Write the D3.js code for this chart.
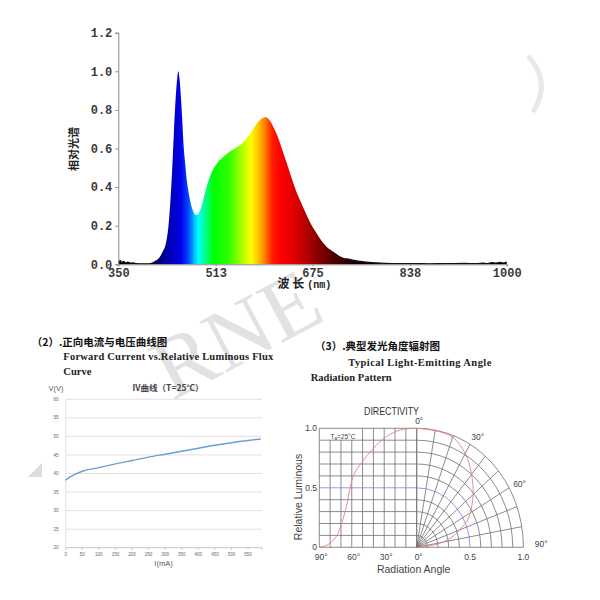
<!DOCTYPE html>
<html>
<head>
<meta charset="utf-8">
<script type="text/javascript" src="https://cdn.jsdelivr.net/npm/d3@7/dist/d3.min.js"></script>
<style>
	body { margin: 0; background: #fff; }
	svg { display: block; }
</style>
</head>
<body>

<svg width="600" height="600"></svg>

<script type="text/javascript">

	// Spectrum (relative, vs wavelength nm)
	var specNm = [350, 353, 356, 359, 362, 366, 370, 375, 380, 390, 400, 408, 414, 420, 425, 428, 431, 434, 437, 440,
		443, 446, 448.5, 450.5, 452.5, 454.5, 457, 459, 462, 464.5, 467, 470, 473, 476, 479, 481, 484, 487, 491, 495,
		499, 503.5, 508, 512, 517, 523, 530, 537, 545, 554, 560, 565, 571, 576, 581, 587, 591, 595.5, 598, 601,
		605, 609, 615, 620.5, 626, 632, 637, 643, 648, 654, 660, 665, 673, 682, 690, 699, 710, 721, 730, 740,
		755, 770, 790, 810, 840, 870, 900, 930, 950, 960, 968, 975, 982, 988, 994, 1000];
	var specVal = [0.012, 0.02, 0.01, 0.016, 0.008, 0.012, 0.006, 0.008, 0.004, 0.003, 0.003, 0.008, 0.02, 0.04, 0.07, 0.09, 0.13, 0.2, 0.32, 0.48,
		0.68, 0.86, 0.96, 1.0, 0.96, 0.88, 0.75, 0.63, 0.52, 0.44, 0.385, 0.335, 0.295, 0.27, 0.257, 0.255, 0.262, 0.28, 0.32, 0.37,
		0.415, 0.455, 0.487, 0.508, 0.53, 0.55, 0.568, 0.584, 0.6, 0.618, 0.635, 0.653, 0.678, 0.703, 0.726, 0.748, 0.757, 0.762, 0.761, 0.754,
		0.738, 0.714, 0.675, 0.628, 0.578, 0.524, 0.476, 0.42, 0.376, 0.333, 0.29, 0.256, 0.205, 0.16, 0.122, 0.09, 0.065, 0.042, 0.03, 0.024,
		0.015, 0.01, 0.006, 0.004, 0.004, 0.003, 0.004, 0.005, 0.004, 0.007, 0.004, 0.009, 0.006, 0.011, 0.007, 0.012];
	var specYTicks = [0, 0.2, 0.4, 0.6, 0.8, 1.0, 1.2];
	var specXTicks = [350, 513, 675, 838, 1000];

	// IV curve
	var ivCurrent = [0, 10, 25, 50, 100, 150, 200, 250, 300, 350, 400, 450, 500, 550, 588];
	var ivVoltage = [38.2, 38.9, 39.6, 40.6, 41.6, 42.6, 43.5, 44.4, 45.2, 46.0, 46.8, 47.6, 48.3, 48.9, 49.3];
	var ivYTicks = [20, 25, 30, 35, 40, 45, 50, 55, 60];
	var ivXTicks = [0, 50, 100, 150, 200, 250, 300, 350, 400, 450, 500, 550];

	// Directivity: rectangular curve and polar curve
	var rectAngle = [90, 85, 80, 76, 73, 70, 68, 65, 62, 59, 55, 50, 46, 40, 35, 28, 20, 10, 0];
	var rectLum = [0, 0.01, 0.035, 0.07, 0.11, 0.18, 0.24, 0.34, 0.48, 0.59, 0.66, 0.72, 0.77, 0.83, 0.88, 0.93, 0.97, 0.995, 1.0];
	var polarAngle = [0, 10, 20, 30, 40, 50, 60, 65, 68, 72, 76, 80, 84, 87, 90];
	var polarLum = [1.0, 0.995, 0.985, 0.91, 0.8, 0.69, 0.58, 0.52, 0.46, 0.4, 0.33, 0.25, 0.15, 0.07, 0];
	var gridAngles = [0, 10, 20, 30, 40, 50, 60, 70, 80, 90];
	var gridRadii = [0.1, 0.2, 0.3, 0.4, 0.5, 0.6, 0.7, 0.8, 0.9, 1.0];
	var angleLabels = [0, 30, 60, 90];
	var bottomAngleLabels = [90, 60, 30, 0];
	var lumLabels = [0, 0.5, 1.0];
	var radiusLabels = [0.5, 1.0];

	// colour of the spectrum fill, by wavelength
	var specStops = [[350, "#000000"], [405, "#000040"], [425, "#00008c"], [440, "#0000c0"], [455, "#0000e8"],
		[468, "#0050ff"], [478, "#00c8ff"], [484, "#00ffff"], [495, "#00ff90"], [510, "#00ff00"], [535, "#30ff00"],
		[555, "#a0ff00"], [572, "#ffff00"], [585, "#ffc000"], [595, "#ff8000"], [607, "#ff2000"], [620, "#ff0000"],
		[645, "#e00000"], [665, "#b00000"], [688, "#800000"], [710, "#500000"], [740, "#200000"], [780, "#000000"]];

	var svg = d3.select("svg");
	var sans = "'Liberation Sans', Arial, sans-serif";
	var mono = "'Liberation Mono', 'Courier New', monospace";
	var serif = "'Liberation Serif', 'Times New Roman', serif";
	var cjk = "'Noto Sans CJK SC', sans-serif";

	function watermark() {
		svg.append("text")
			.attr("transform", "translate(250,360) rotate(-28)")
			.attr("text-anchor", "middle")
			.attr("font-family", serif)
			.attr("font-size", 88)
			.attr("fill", "#e2e2e2")
			.text("RNE");
		svg.append("path")
			.attr("d", "M528,56 Q552,82 533,112")
			.attr("fill", "none")
			.attr("stroke", "#e8e8e8")
			.attr("stroke-width", 5);
		svg.append("path")
			.attr("d", "M42,463 L42,477 L28,477 Z")
			.attr("fill", "#dcdcdc");
	}

	function spectrum() {
		var x = d3.scaleLinear().domain([350, 1000]).range([118.3, 506.7]);
		var y = d3.scaleLinear().domain([0, 1.2]).range([264.3, 32.7]);
		var data = specNm.map(function(d, i) { return [d, specVal[i]]; });

		var grad = svg.append("defs").append("linearGradient")
			.attr("id", "spec")
			.attr("gradientUnits", "userSpaceOnUse")
			.attr("x1", x(350)).attr("x2", x(1000))
			.attr("y1", 0).attr("y2", 0);
		grad.selectAll("stop").data(specStops).enter().append("stop")
			.attr("offset", function(d) { return (d[0] - 350) / 650; })
			.attr("stop-color", function(d) { return d[1]; });

		svg.append("path")
			.datum(data)
			.attr("fill", "url(#spec)")
			.attr("d", d3.area()
				.x(function(d) { return x(d[0]); })
				.y0(y(0))
				.y1(function(d) { return y(d[1]); })
				.curve(d3.curveMonotoneX));

		// noisy baseline in the tails
		svg.append("path")
			.datum(data)
			.attr("fill", "none")
			.attr("stroke", "#111")
			.attr("stroke-width", 1.1)
			.attr("d", d3.line()
				.defined(function(d) { return d[0] < 418 || d[0] > 725; })
				.x(function(d) { return x(d[0]); })
				.y(function(d) { return y(d[1]); })
				.curve(d3.curveMonotoneX));

		var ya = svg.append("g")
			.attr("transform", "translate(118.3,0)")
			.call(d3.axisLeft(y).tickValues(specYTicks).tickFormat(d3.format(".1f")).tickSize(3).tickPadding(3));
		var xa = svg.append("g")
			.attr("transform", "translate(0,264.3)")
			.call(d3.axisBottom(x).tickValues(specXTicks).tickFormat(d3.format("d")).tickSize(2).tickPadding(2));
		[ya, xa].forEach(function(a) {
			a.select(".domain").attr("stroke", "#8a8a8a");
			a.selectAll(".tick line").attr("stroke", "#8a8a8a");
			a.selectAll("text")
				.attr("font-family", mono)
				.attr("font-weight", "bold")
				.attr("font-size", 12)
				.attr("fill", "#3a3a3a");
		});

		svg.append("text")
			.attr("transform", "translate(77.5,149) rotate(-90)")
			.attr("text-anchor", "middle")
			.attr("font-family", cjk)
			.attr("font-weight", "bold")
			.attr("font-size", 11)
			.attr("fill", "#222")
			.text("相对光谱");

		var t = svg.append("text")
			.attr("x", 277.5)
			.attr("y", 288)
			.attr("fill", "#222");
		t.append("tspan")
			.attr("font-family", cjk)
			.attr("font-weight", "bold")
			.attr("font-size", 12)
			.text("波 长");
		t.append("tspan")
			.attr("font-family", mono)
			.attr("font-weight", "bold")
			.attr("font-size", 10)
			.attr("dx", 3)
			.text("(nm)");
	}

	function ivChart() {
		var x = d3.scaleLinear().domain([0, 592]).range([65.7, 262]);
		var y = d3.scaleLinear().domain([20, 60]).range([547.7, 399.3]);
		var data = ivCurrent.map(function(d, i) { return [d, ivVoltage[i]]; });

		svg.append("text")
			.attr("x", 31.7).attr("y", 345.5)
			.attr("font-family", cjk).attr("font-weight", "bold").attr("font-size", 10.5)
			.attr("fill", "#111")
			.text("（2）.正向电流与电压曲线图");
		svg.append("text")
			.attr("x", 63.3).attr("y", 359.5)
			.attr("textLength", 210).attr("lengthAdjust", "spacing")
			.attr("font-family", serif).attr("font-weight", "bold").attr("font-size", 10.5)
			.attr("fill", "#222")
			.text("Forward Current vs.Relative Luminous Flux");
		svg.append("text")
			.attr("x", 63.3).attr("y", 374.5)
			.attr("font-family", serif).attr("font-weight", "bold").attr("font-size", 10.5)
			.attr("fill", "#222")
			.text("Curve");

		svg.append("g").selectAll("line").data(ivYTicks).enter().append("line")
			.attr("x1", x(0)).attr("x2", x(592))
			.attr("y1", function(d) { return y(d); })
			.attr("y2", function(d) { return y(d); })
			.attr("stroke", function(d) { return d == 20 ? "#b8b8b8" : "#d9d9d9"; })
			.attr("stroke-width", 0.8);
		svg.append("line")
			.attr("x1", x(0)).attr("x2", x(0))
			.attr("y1", y(60)).attr("y2", y(20))
			.attr("stroke", "#d9d9d9").attr("stroke-width", 0.8);
		svg.append("g").selectAll("line").data(ivXTicks.concat([592])).enter().append("line")
			.attr("x1", function(d) { return x(d); })
			.attr("x2", function(d) { return x(d); })
			.attr("y1", y(20)).attr("y2", y(20) + 2)
			.attr("stroke", "#b8b8b8").attr("stroke-width", 0.8);

		svg.append("g").selectAll("text").data(ivYTicks).enter().append("text")
			.attr("x", 58.5)
			.attr("y", function(d) { return y(d) + 1.6; })
			.attr("text-anchor", "end")
			.attr("font-family", sans).attr("font-size", 4.5).attr("fill", "#666")
			.text(function(d) { return d; });
		svg.append("g").selectAll("text").data(ivXTicks).enter().append("text")
			.attr("x", function(d) { return x(d); })
			.attr("y", 555.8)
			.attr("text-anchor", "middle")
			.attr("font-family", sans).attr("font-size", 4.5).attr("fill", "#666")
			.text(function(d) { return d; });

		svg.append("path")
			.datum(data)
			.attr("fill", "none")
			.attr("stroke", "#6a9fd4")
			.attr("stroke-width", 1.4)
			.attr("d", d3.line()
				.x(function(d) { return x(d[0]); })
				.y(function(d) { return y(d[1]); })
				.curve(d3.curveMonotoneX));

		svg.append("text")
			.attr("x", 168).attr("y", 390.5)
			.attr("text-anchor", "middle")
			.attr("font-family", cjk).attr("font-weight", "bold").attr("font-size", 8.5)
			.attr("fill", "#444")
			.text("IV曲线（T=25℃）");
		svg.append("text")
			.attr("x", 48.5).attr("y", 390.5)
			.attr("font-family", sans).attr("font-size", 7.5).attr("fill", "#555")
			.text("V(V)");
		svg.append("text")
			.attr("x", 163.5).attr("y", 566)
			.attr("text-anchor", "middle")
			.attr("font-family", sans).attr("font-size", 7.5).attr("fill", "#555")
			.text("I(mA)");
	}

	function directivity() {
		var cx = 416.7, cy = 547.3;
		var xa = d3.scaleLinear().domain([90, 0]).range([319.3, cx]);
		var yl = d3.scaleLinear().domain([0, 1]).range([cy, 428.3]);
		var rx = d3.scaleLinear().domain([0, 1]).range([0, 106.7]);
		var ry = d3.scaleLinear().domain([0, 1]).range([0, 119]);
		var rad = function(a) { return a * Math.PI / 180; };
		var px = function(a, r) { return cx + rx(r) * Math.sin(rad(a)); };
		var py = function(a, r) { return cy - ry(r) * Math.cos(rad(a)); };
		var gridCol = "#6e6e6e", blue = "#7a7af0", red = "#e58080";

		svg.append("text")
			.attr("x", 315).attr("y", 349.5)
			.attr("font-family", cjk).attr("font-weight", "bold").attr("font-size", 10.5)
			.attr("fill", "#111")
			.text("（3）.典型发光角度辐射图");
		svg.append("text")
			.attr("x", 348.3).attr("y", 365.5)
			.attr("textLength", 143).attr("lengthAdjust", "spacing")
			.attr("font-family", serif).attr("font-weight", "bold").attr("font-size", 10.5)
			.attr("fill", "#222")
			.text("Typical   Light-Emitting   Angle");
		svg.append("text")
			.attr("x", 310.7).attr("y", 380.5)
			.attr("textLength", 81).attr("lengthAdjust", "spacing")
			.attr("font-family", serif).attr("font-weight", "bold").attr("font-size", 10.5)
			.attr("fill", "#222")
			.text("Radiation Pattern");

		var g = svg.append("g").attr("fill", "none").attr("stroke-width", 0.8);

		// rectangular half
		g.selectAll("line.v").data(gridAngles).enter().append("line")
			.attr("x1", function(d) { return xa(d); })
			.attr("x2", function(d) { return xa(d); })
			.attr("y1", yl(0))
			.attr("y2", function(d) { return (d > 50 && d < 90) ? yl(0.9) : yl(1); })
			.attr("stroke", gridCol);
		g.selectAll("line.h").data([0].concat(gridRadii)).enter().append("line")
			.attr("x1", xa(90)).attr("x2", xa(0))
			.attr("y1", function(d) { return yl(d); })
			.attr("y2", function(d) { return yl(d); })
			.attr("stroke", function(d) { return d == 0.5 ? blue : gridCol; });

		// polar half
		g.selectAll("path.arc").data(gridRadii).enter().append("path")
			.attr("d", function(d) {
				return "M" + px(0, d) + "," + py(0, d) + " A" + rx(d) + "," + ry(d) + " 0 0 1 " + px(90, d) + "," + py(90, d);
			})
			.attr("stroke", function(d) { return d == 0.5 ? blue : gridCol; });
		g.selectAll("line.r").data(gridAngles).enter().append("line")
			.attr("x1", cx).attr("y1", cy)
			.attr("x2", function(d) { return px(d, 1); })
			.attr("y2", function(d) { return py(d, 1); })
			.attr("stroke", gridCol);

		// curves
		g.append("path")
			.datum(rectAngle.map(function(d, i) { return [d, rectLum[i]]; }))
			.attr("stroke", red).attr("stroke-width", 0.9)
			.attr("d", d3.line()
				.x(function(d) { return xa(d[0]); })
				.y(function(d) { return yl(d[1]); })
				.curve(d3.curveMonotoneX));
		g.append("path")
			.datum(polarAngle.map(function(d, i) { return [d, polarLum[i]]; }))
			.attr("stroke", red).attr("stroke-width", 0.9)
			.attr("d", d3.line()
				.x(function(d) { return px(d[0], d[1]); })
				.y(function(d) { return py(d[0], d[1]); })
				.curve(d3.curveCatmullRom));

		// Ta box label
		var ta = svg.append("text")
			.attr("x", 330.5).attr("y", 438.5)
			.attr("font-family", sans).attr("font-size", 6.5).attr("fill", "#444");
		ta.append("tspan").text("T");
		ta.append("tspan").attr("dy", 1.5).attr("font-size", 4.5).text("a");
		ta.append("tspan").attr("dy", -1.5).text("=25°C");

		var lab = svg.append("g")
			.attr("font-family", sans).attr("font-size", 8.5).attr("fill", "#444");
		lab.append("text")
			.attr("x", 364).attr("y", 415)
			.attr("textLength", 55).attr("lengthAdjust", "spacingAndGlyphs")
			.attr("font-size", 10).attr("fill", "#333")
			.text("DIRECTIVITY");
		lab.selectAll("text.ang").data(angleLabels).enter().append("text")
			.attr("x", function(d) { return px(d, 1.07) + (d == 0 ? 2.5 : 4); })
			.attr("y", function(d) { return py(d, 1.07) + (d == 90 ? 0 : (d == 0 ? 4 : 3)); })
			.attr("text-anchor", function(d) { return d == 90 ? "start" : "middle"; })
			.text(function(d) { return d + "°"; });
		lab.selectAll("text.bot").data(bottomAngleLabels).enter().append("text")
			.attr("x", function(d) { return xa(d) + 2; })
			.attr("y", 559.8)
			.attr("text-anchor", "middle")
			.text(function(d) { return d + "°"; });
		lab.selectAll("text.rad").data(radiusLabels).enter().append("text")
			.attr("x", function(d) { return px(90, d); })
			.attr("y", 559.8)
			.attr("text-anchor", "middle")
			.text(function(d) { return d.toFixed(1); });
		lab.selectAll("text.lum").data(lumLabels).enter().append("text")
			.attr("x", 317)
			.attr("y", function(d) { return yl(d) + 3; })
			.attr("text-anchor", "end")
			.text(function(d) { return d == 0 ? "0" : d.toFixed(1); });

		lab.append("text")
			.attr("transform", "translate(301.5,497) rotate(-90)")
			.attr("text-anchor", "middle").attr("font-size", 10.5)
			.text("Relative Luminous");
		lab.append("text")
			.attr("x", 413.7).attr("y", 572.5)
			.attr("text-anchor", "middle").attr("font-size", 10.5)
			.text("Radiation Angle");
	}

	watermark();
	spectrum();
	ivChart();
	directivity();

</script>

</body>
</html>
